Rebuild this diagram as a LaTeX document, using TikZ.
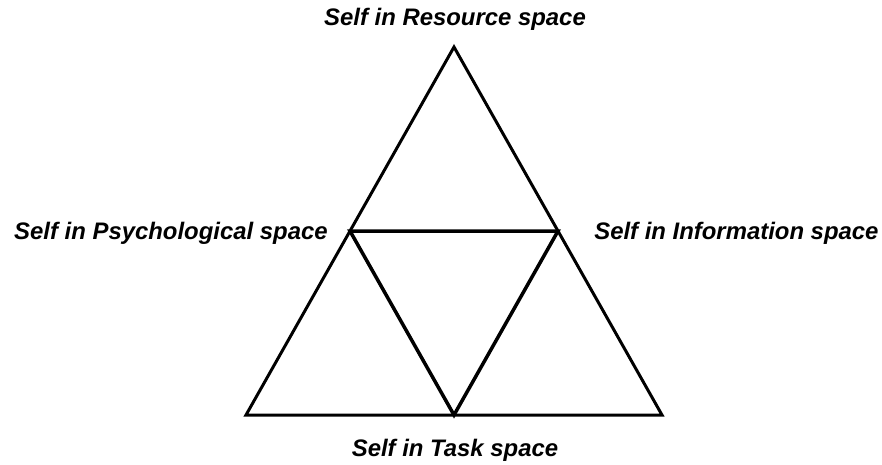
\documentclass[tikz,border=0pt]{standalone}
\usepackage{fontspec}
\setmainfont{Liberation Sans}
\usetikzlibrary{positioning,calc}

\begin{document}
\begin{tikzpicture}[x=0.02cm,y=-0.02cm]
  \useasboundingbox (0,0) rectangle (882,464);
  \tikzset{side/.style={line width=1.7pt,line join=miter},
    selflabel/.style={font=\fontsize{13.6}{16}\selectfont\bfseries\itshape,inner sep=0pt}}
  \coordinate (top) at (454,47);
  \coordinate (bl) at (246,415);
  \coordinate (br) at (662,415);
  \coordinate (ml) at ($(top)!0.5!(bl)$);
  \coordinate (mr) at ($(top)!0.5!(br)$);
  \coordinate (mb) at ($(bl)!0.5!(br)$);
  \draw[side] (top) -- (bl) -- (br) -- cycle;
  \draw[side,line width=2pt] (ml) -- (mr) -- (mb) -- cycle;
  \node[selflabel] (res) at (455,19) {Self in Resource space};
  \node[selflabel,anchor=east] (psy) at (328,233) {Self in Psychological space};
  \node[selflabel,anchor=west] (inf) at (594,233) {Self in Information space};
  \node[selflabel] (task) at (455,450) {Self in Task space};
\end{tikzpicture}
\end{document}
